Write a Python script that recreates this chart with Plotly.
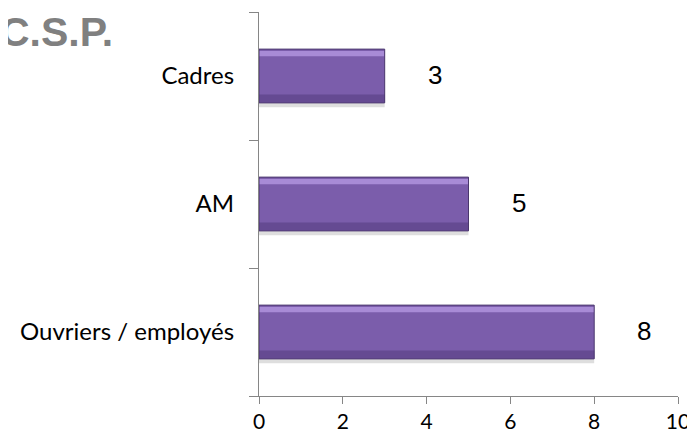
import plotly.graph_objects as go

categories = ["Ouvriers / employés", "AM", "Cadres"]
values = [8, 5, 3]
x_ticks = [0, 2, 4, 6, 8, 10]
title_text = "C.S.P."

BAR_W = 0.42
fig = go.Figure()
# soft shadow under bars
fig.add_trace(go.Bar(y=categories, x=values, orientation="h", width=BAR_W, offset=-BAR_W / 2 - 0.035,
                     marker=dict(color="rgba(0,0,0,0.13)", line=dict(width=0)),
                     showlegend=False, hoverinfo="skip"))
# main bar body
fig.add_trace(go.Bar(y=categories, x=values, orientation="h", width=BAR_W, offset=-BAR_W / 2,
                     marker=dict(color="#7b5dab", line=dict(width=0)),
                     showlegend=False, hoverinfo="skip"))
# light bevel at top
fig.add_trace(go.Bar(y=categories, x=values, orientation="h", width=0.04, offset=0.155,
                     marker=dict(color="#a88bd6", line=dict(width=0)),
                     showlegend=False, hoverinfo="skip"))
# dark band at bottom
fig.add_trace(go.Bar(y=categories, x=values, orientation="h", width=0.06, offset=-0.205,
                     marker=dict(color="#654a92", line=dict(width=0)),
                     showlegend=False, hoverinfo="skip"))
# outline
fig.add_trace(go.Bar(y=categories, x=values, orientation="h", width=BAR_W, offset=-BAR_W / 2,
                     marker=dict(color="rgba(0,0,0,0)", line=dict(color="#4a376d", width=1)),
                     showlegend=False, hoverinfo="skip"))

for c, v in zip(categories, values):
    fig.add_annotation(x=v, y=c, xref="x", yref="y", text=str(v), showarrow=False,
                       xshift=50, yshift=1,
                       font=dict(family="Liberation Sans, Arial", size=26, color="#000000"))

fig.add_annotation(xref="paper", yref="paper", x=(107 - 251) / 419, y=1.0, xanchor="right", yanchor="top",
                   yshift=5, text="<b>" + title_text + "</b>", showarrow=False,
                   font=dict(family="Liberation Sans, Arial", size=41, color="#808080"))

fig.update_layout(
    width=687, height=426,
    margin=dict(l=251, r=17, t=4, b=38, autoexpand=False),
    plot_bgcolor="white", paper_bgcolor="white",
    barmode="overlay",
)
fig.update_xaxes(
    range=[0, 10], tickvals=x_ticks, showgrid=False, zeroline=False,
    showline=True, linecolor="#868686", linewidth=1.2,
    ticks="outside", ticklen=7, tickcolor="#868686",
    tickfont=dict(family="Lato, Carlito, sans-serif", size=21, color="#000000"),
    ticklabelstandoff=0, automargin=False, ticklabeloverflow="allow",
)
fig.update_yaxes(
    type="category", categoryorder="array", categoryarray=categories,
    range=[-0.5, 2.5], showgrid=False, zeroline=False,
    showline=True, linecolor="#868686", linewidth=1.2,
    ticks="outside", ticklen=9, tickcolor="#868686", tickson="boundaries",
    tickfont=dict(family="Lato, Carlito, sans-serif", size=24, color="#000000"),
    ticklabelstandoff=19, automargin=False,
)

fig.write_html("out.html")
